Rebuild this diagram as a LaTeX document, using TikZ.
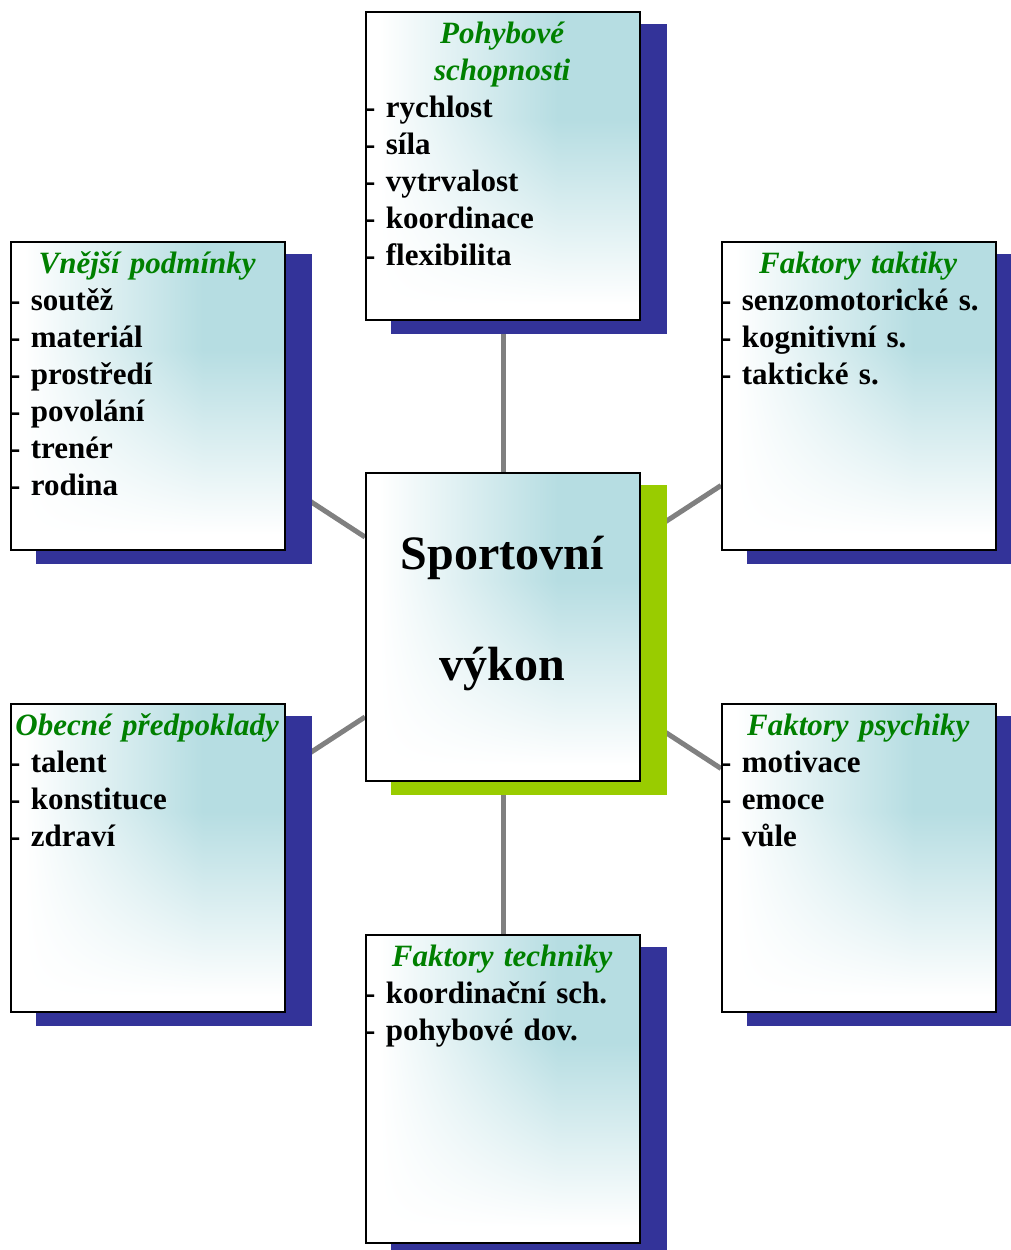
\documentclass[tikz,border=0pt]{standalone}
\usepackage{fontspec}
\setmainfont{Liberation Serif}
\usetikzlibrary{backgrounds}

\definecolor{shadowblue}{RGB}{51,51,153}
\definecolor{shadowgreen}{RGB}{153,204,0}
\definecolor{titlegreen}{RGB}{0,128,0}
\definecolor{linkgray}{RGB}{128,128,128}

% white at left and bottom, teal towards the upper right
\pgfdeclarefunctionalshading{boxshade}{\pgfpoint{0bp}{0bp}}{\pgfpoint{100bp}{100bp}}{}{
  75 exch sub 50 div
  0.95 exch sub 0.6 div dup 0 lt {pop 0} if dup 1 gt {pop 1} if
  exch
  25 sub 50 div 0.05 sub 0.65 div dup 0 lt {pop 0} if dup 1 gt {pop 1} if
  mul
  dup 0.286 mul 1 exch sub
  exch dup 0.133 mul 1 exch sub
  exch 0.114 mul 1 exch sub
}

\newcommand{\boxtitle}[1]{{\centering\color{titlegreen}\itshape #1\par}}

\tikzset{
  factorbox/.style={draw=black, line width=2pt, minimum width=274pt, minimum height=308pt,
    inner sep=0pt, shade, shading=boxshade},
  boxtext/.style={anchor=base west, text width=274pt, inner sep=0pt, align=left,
    font=\fontsize{31}{37}\selectfont\bfseries},
  link/.style={draw=linkgray, line width=5pt},
}

\begin{document}
\begin{tikzpicture}[x=1pt, y=-1pt]
        \useasboundingbox (0,0) rectangle (1010,1250);

        % boxes
        \node[factorbox] (vykon) at (503,627) {};
        \node[factorbox] (pohyb) at (503,166) {};
        \node[factorbox] (vnejsi) at (148,396) {};
        \node[factorbox] (taktika) at (859,396) {};
        \node[factorbox] (obecne) at (148,858) {};
        \node[factorbox] (psychika) at (859,858) {};
        \node[factorbox] (technika) at (503,1089) {};

        % texts
        \node[boxtext, align=center, font=\fontsize{48}{111}\selectfont\bfseries] (vykontext)
          at ([yshift=-97pt]vykon.north west) {Sportovní\\výkon};
        \node[boxtext] (pohybtext) at ([yshift=-32pt]pohyb.north west)
          {\boxtitle{Pohybové\\schopnosti}- rychlost\\- síla\\- vytrvalost\\- koordinace\\- flexibilita};
        \node[boxtext] (vnejsitext) at ([yshift=-32pt]vnejsi.north west)
          {\boxtitle{Vnější podmínky}- soutěž\\- materiál\\- prostředí\\- povolání\\- trenér\\- rodina};
        \node[boxtext] (taktikatext) at ([yshift=-32pt]taktika.north west)
          {\boxtitle{Faktory taktiky}- senzomotorické s.\\- kognitivní s.\\- taktické s.};
        \node[boxtext] (obecnetext) at ([yshift=-32pt]obecne.north west)
          {\boxtitle{Obecné předpoklady}- talent\\- konstituce\\- zdraví};
        \node[boxtext] (psychikatext) at ([yshift=-32pt]psychika.north west)
          {\boxtitle{Faktory psychiky}- motivace\\- emoce\\- vůle};
        \node[boxtext] (technikatext) at ([yshift=-32pt]technika.north west)
          {\boxtitle{Faktory techniky}- koordinační sch.\\- pohybové dov.};

        \begin{scope}[on background layer]
          % links
          \foreach \n in {pohyb,vnejsi,taktika,obecne,psychika,technika}
            \draw[link] (vykon) -- (\n);
          % shadows
          \foreach \n in {pohyb,vnejsi,taktika,obecne,psychika,technika}
            \fill[shadowblue] ([xshift=26pt,yshift=-13pt]\n.south west) rectangle ([xshift=26pt,yshift=-13pt]\n.north east);
          \fill[shadowgreen] ([xshift=26pt,yshift=-13pt]vykon.south west) rectangle ([xshift=26pt,yshift=-13pt]vykon.north east);
        \end{scope}
\end{tikzpicture}
\end{document}
